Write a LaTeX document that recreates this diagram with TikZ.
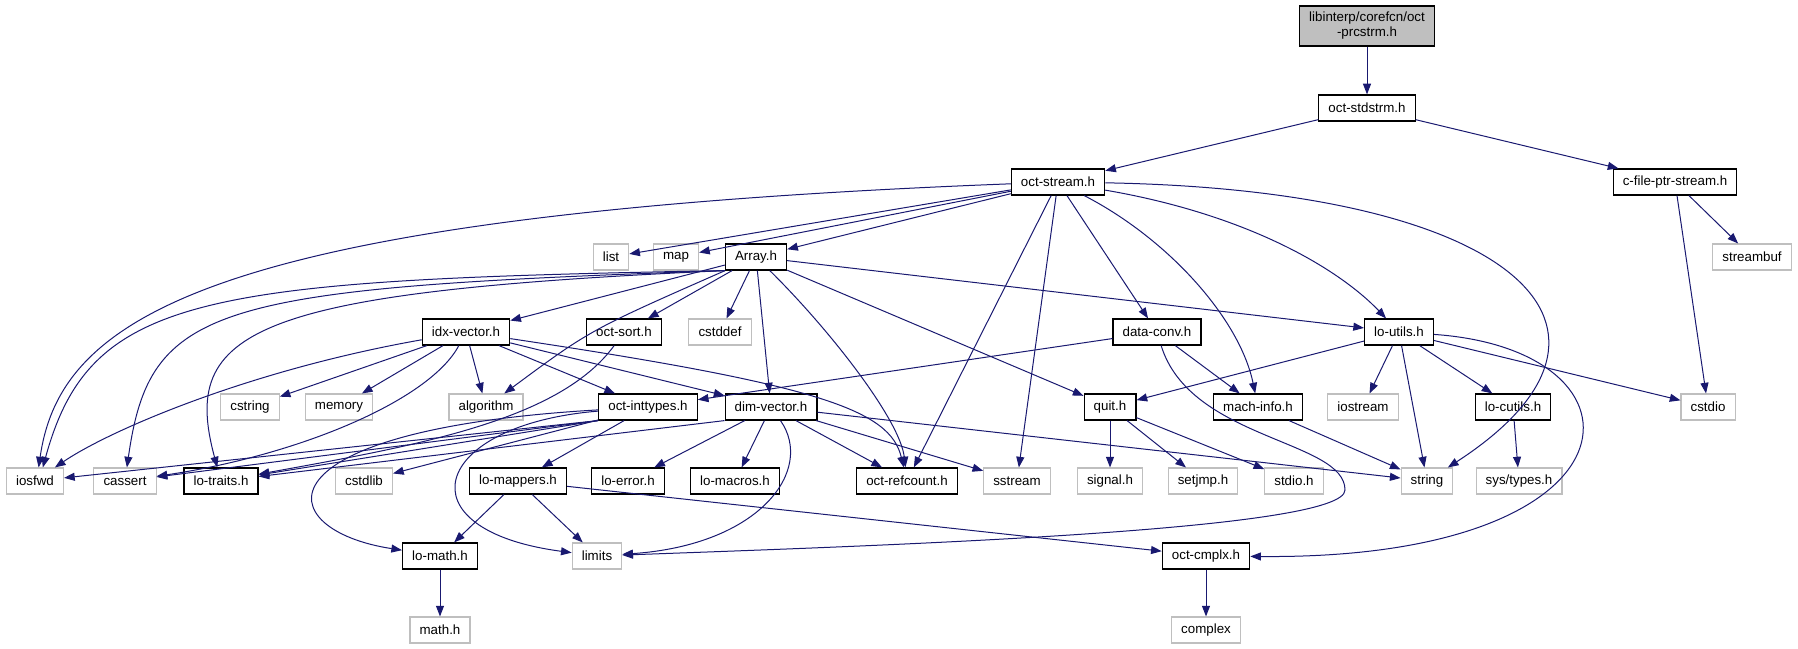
\documentclass[tikz,border=0pt]{standalone}
\usepackage{fontspec}
\setmainfont{Liberation Sans}
\usetikzlibrary{arrows.meta}
\definecolor{edgeblue}{HTML}{191970}
\definecolor{sysgrey}{HTML}{BFBFBF}

\begin{document}
\begin{tikzpicture}[x=0.75pt, y=-0.75pt,
  box/.style={rectangle, font=\fontsize{10}{11.25}\selectfont,
    inner xsep=7.2pt, inner ysep=0pt, minimum height=19.5pt},
  hdr/.style={box, draw=black, line width=0.9pt},
  sys/.style={box, draw=sysgrey, line width=0.8pt},
  rootbox/.style={hdr, fill=sysgrey, align=center, minimum height=30pt},
  dep/.style={draw=edgeblue, line width=0.75pt,
    -{Triangle[length=8pt,width=6pt]}}]
\useasboundingbox (0,0) rectangle (1798,649);

\node[rootbox] (root) at (1367,26) {libinterp/corefcn/oct\\-prcstrm.h};
\node[hdr] (stdstrm) at (1367,108) {oct-stdstrm.h};
\node[hdr] (ostream) at (1058,182) {oct-stream.h};
\node[hdr] (cfile) at (1675,182) {c-file-ptr-stream.h};

\node[sys] (list) at (611,257) {list};
\node[sys] (map) at (676,257) {map};
\node[hdr] (array) at (756,257) {Array.h};
\node[sys] (streambuf) at (1752,257) {streambuf};

\node[hdr] (idxvec) at (466,332) {idx-vector.h};
\node[hdr] (octsort) at (624,332) {oct-sort.h};
\node[sys] (cstddef) at (720,332) {cstddef};
\node[hdr] (dataconv) at (1157,332) {data-conv.h};
\node[hdr] (loutils) at (1399,332) {lo-utils.h};

\node[sys] (cstring) at (250,407) {cstring};
\node[sys] (memory) at (339,407) {memory};
\node[sys] (algorithm) at (486,407) {algorithm};
\node[hdr] (inttypes) at (648,407) {oct-inttypes.h};
\node[hdr] (dimvec) at (771,407) {dim-vector.h};
\node[hdr] (quit) at (1110,407) {quit.h};
\node[hdr] (machinfo) at (1258,407) {mach-info.h};
\node[sys] (iostream) at (1363,407) {iostream};
\node[hdr] (locutils) at (1513,407) {lo-cutils.h};
\node[sys] (cstdio) at (1708,407) {cstdio};

\node[sys] (iosfwd) at (35,481) {iosfwd};
\node[sys] (cassert) at (125,481) {cassert};
\node[hdr] (lotraits) at (221,481) {lo-traits.h};
\node[sys] (cstdlib) at (364,481) {cstdlib};
\node[hdr] (lomappers) at (518,481) {lo-mappers.h};
\node[hdr] (loerror) at (628,481) {lo-error.h};
\node[hdr] (lomacros) at (735,481) {lo-macros.h};
\node[hdr] (refcount) at (907,481) {oct-refcount.h};
\node[sys] (sstream) at (1017,481) {sstream};
\node[sys] (signal) at (1110,481) {signal.h};
\node[sys] (setjmp) at (1203,481) {setjmp.h};
\node[sys] (stdio) at (1294,481) {stdio.h};
\node[sys] (string) at (1427,481) {string};
\node[sys] (systypes) at (1519,481) {sys/types.h};

\node[hdr] (lomath) at (440,556) {lo-math.h};
\node[sys] (limits) at (597,556) {limits};
\node[hdr] (cmplx) at (1206,556) {oct-cmplx.h};
\node[sys] (mathh) at (440,630) {math.h};
\node[sys] (complex) at (1206,630) {complex};

\draw[dep] (root) -- (stdstrm);
\draw[dep] (stdstrm) -- (ostream);
\draw[dep] (stdstrm) -- (cfile);
\draw[dep] (cfile) -- (streambuf);
\draw[dep] (cfile) -- (cstdio);

\draw[dep] (ostream) .. controls (200,215) and (60,320) .. (iosfwd.75);
\draw[dep] (ostream) -- (list);
\draw[dep] (ostream) -- (map);
\draw[dep] (ostream) -- (array);
\draw[dep] (ostream) -- (refcount);
\draw[dep] (ostream) -- (sstream);
\draw[dep] (ostream) -- (dataconv);
\draw[dep] (ostream) .. controls (1170,240) and (1240,320) .. (machinfo);
\draw[dep] (ostream) .. controls (1250,215) and (1340,270) .. (loutils);
\draw[dep] (ostream) .. controls (1520,190) and (1660,330) .. (string);

\draw[dep] (array.south west) .. controls (200,280) and (90,295) .. (iosfwd.60);
\draw[dep] (array.south west) .. controls (210,288) and (150,305) .. (cassert);
\draw[dep] (array.south west) .. controls (250,292) and (180,330) .. (lotraits);
\draw[dep] (array) -- (idxvec);
\draw[dep] (array) .. controls (590,330) .. (algorithm);
\draw[dep] (array) -- (octsort);
\draw[dep] (array) -- (cstddef);
\draw[dep] (array) -- (dimvec);
\draw[dep] (array) .. controls (830,330) and (900,420) .. (refcount);
\draw[dep] (array) -- (quit);
\draw[dep] (array) -- (loutils);

\draw[dep] (idxvec) .. controls (250,370) and (110,430) .. (iosfwd);
\draw[dep] (idxvec) -- (cstring);
\draw[dep] (idxvec) -- (memory);
\draw[dep] (idxvec) .. controls (430,400) and (300,455) .. (cassert);
\draw[dep] (idxvec) -- (algorithm);
\draw[dep] (idxvec) -- (inttypes);
\draw[dep] (idxvec) -- (dimvec);
\draw[dep] (idxvec) .. controls (820,385) and (890,410) .. (refcount);

\draw[dep] (octsort) .. controls (560,420) and (420,445) .. (lotraits);

\draw[dep] (dataconv) -- (inttypes);
\draw[dep] (dataconv) -- (machinfo);
\draw[dep] (dataconv) .. controls (1190,440) and (1345,440) .. (1345,490)
   .. controls (1345,530) and (900,545) .. (limits);

\draw[dep] (loutils) -- (quit);
\draw[dep] (loutils) -- (iostream);
\draw[dep] (loutils) -- (string);
\draw[dep] (loutils) -- (locutils);
\draw[dep] (loutils) -- (cstdio);
\draw[dep] (loutils) .. controls (1660,350) and (1650,560) .. (cmplx);

\draw[dep] (inttypes.south west) -- (iosfwd);
\draw[dep] (inttypes.south west) -- (cassert);
\draw[dep] (inttypes.south west) -- (lotraits);
\draw[dep] (inttypes) -- (cstdlib);
\draw[dep] (inttypes) -- (lomappers);
\draw[dep] (inttypes) .. controls (250,430) and (270,530) .. (lomath);
\draw[dep] (inttypes) .. controls (430,425) and (400,530) .. (limits);

\draw[dep] (dimvec.south west) -- (lotraits);
\draw[dep] (dimvec) -- (loerror);
\draw[dep] (dimvec) -- (lomacros);
\draw[dep] (dimvec) -- (refcount);
\draw[dep] (dimvec) -- (sstream);
\draw[dep] (dimvec) .. controls (815,470) and (760,545) .. (limits);
\draw[dep] (dimvec) -- (string);

\draw[dep] (quit) -- (signal);
\draw[dep] (quit) -- (setjmp);
\draw[dep] (quit) -- (stdio);
\draw[dep] (machinfo) -- (string);
\draw[dep] (locutils) -- (systypes);

\draw[dep] (lomappers) -- (lomath);
\draw[dep] (lomappers) -- (limits);
\draw[dep] (lomappers) -- (cmplx);
\draw[dep] (lomath) -- (mathh);
\draw[dep] (cmplx) -- (complex);
\end{tikzpicture}
\end{document}
